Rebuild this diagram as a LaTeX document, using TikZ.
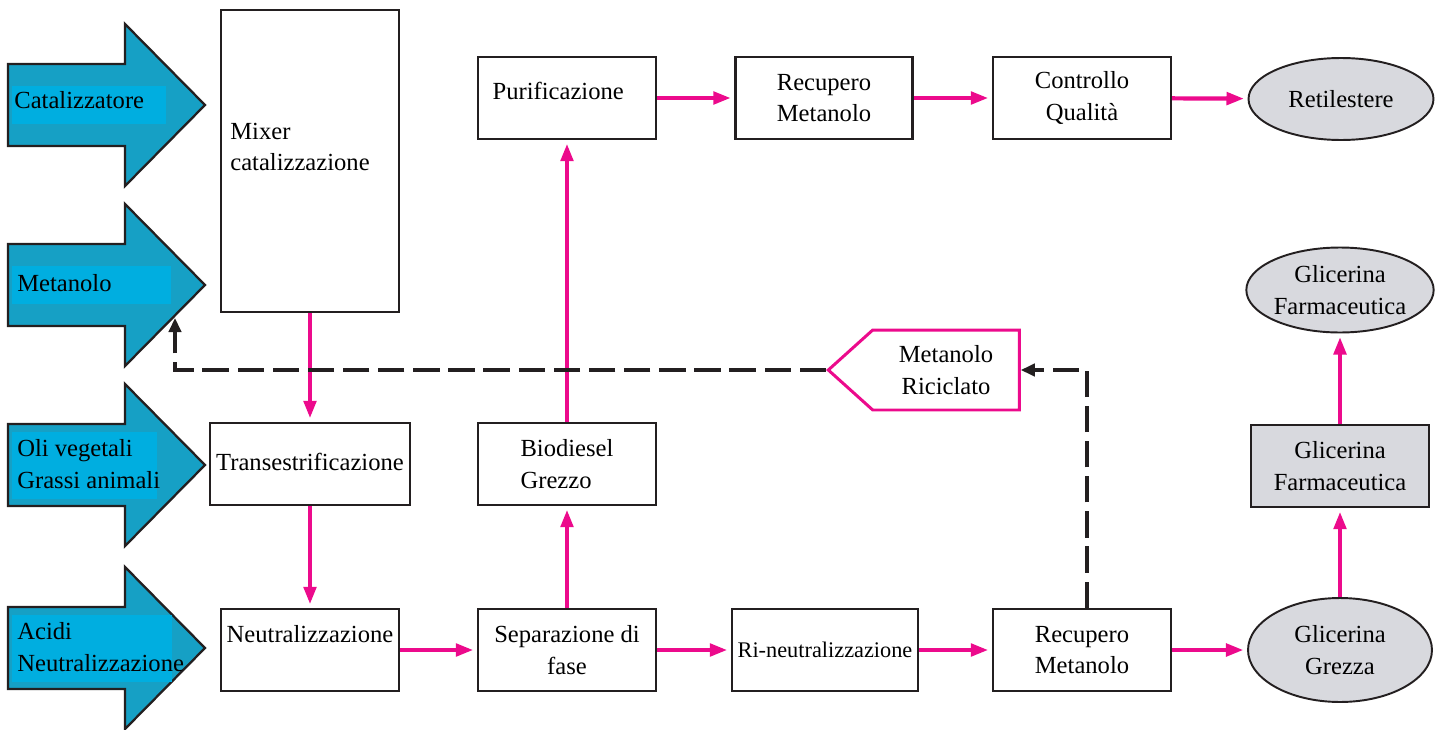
\documentclass[tikz,border=0pt]{standalone}
\usepackage{fontspec}
\setmainfont{Liberation Serif}
\usepackage{xcolor}
\usepackage{tikz}
\usetikzlibrary{arrows.meta,shapes.geometric,shapes.symbols,positioning,calc}
\definecolor{flowpink}{RGB}{236,10,140}
\definecolor{feedblue}{RGB}{22,160,197}
\definecolor{labelblue}{RGB}{0,174,224}
\definecolor{glygray}{RGB}{216,217,222}
\definecolor{linegray}{RGB}{35,31,32}

\begin{document}
\begin{tikzpicture}[x=0.02cm,y=-0.02cm,
  font=\fontsize{14}{18}\selectfont,
  box/.style={draw=linegray,line width=1.3pt,fill=white,inner sep=2pt,
    minimum width=3.56cm,minimum height=1.64cm,align=center},
  product/.style={ellipse,draw=linegray,line width=1.1pt,fill=glygray,inner sep=0pt,
    minimum width=3.68cm,minimum height=1.64cm,align=center},
  feed/.style={fill=feedblue,draw=linegray,line width=1.3pt},
  feedlabel/.style={anchor=west,align=left,inner sep=0pt},
  flow/.style={draw=flowpink,line width=2.4pt,shorten >=2pt,
    -{Triangle[length=10pt,width=7pt]}},
  recycle/.style={draw=linegray,line width=2.3pt,dash pattern=on 15pt off 5pt,
    -{Triangle[length=8pt,width=7pt]}}]
  \useasboundingbox (0,0) rectangle (1437,730);

  % Feed arrows
  \foreach \y/\w/\h in {105/166/38,285/171/38,465/157/67,648/172/67} {
    \draw[feed] (8,\y-41) -- (125,\y-41) -- (125,\y-81) -- (205,\y)
      -- (125,\y+81) -- (125,\y+41) -- (8,\y+41) -- cycle;
    \fill[labelblue] (12,\y-\h/2) rectangle (\w,\y+\h/2);
  }
  \node[feedlabel] (cat) at (14,100) {Catalizzatore};
  \node[feedlabel] (met) at (17,283) {Metanolo};
  \node[feedlabel] (oli) at (17,464) {Oli vegetali\\Grassi animali};
  \node[feedlabel] (acid) at (17,647) {Acidi\\Neutralizzazione};

  % Process units
  \node[box,minimum height=6.04cm] (mixer) at (310,161) {};
  \node[anchor=west,align=left,inner sep=0pt] (mixtxt) at (230,147) {Mixer\\catalizzazione};
  \node[box,minimum width=4cm] (trans) at (310,464) {\raisebox{3pt}{Transestrificazione}};
  \node[box] (neut) at (310,650) {\raisebox{18pt}{Neutralizzazione}};
  \node[box] (sep) at (567,650) {Separazione di\\fase};
  \node[box,minimum width=3.72cm,font=\fontsize{12.7}{18}\selectfont] (rineut) at (825,650) {Ri-neutralizzazione};
  \node[box] (recbot) at (1082,650) {Recupero\\Metanolo};
  \node[box,align=left] (biod) at (567,464) {Biodiesel\\Grezzo};
  \node[box] (purif) at (567,98) {\raisebox{8pt}{Purificazione}\hspace{10pt}};
  \node[box,minimum width=3.54cm] (rectop) at (824,98) {Recupero\\Metanolo};
  \node[box] (ctrl) at (1082,98) {Controllo\\Qualit\`a};

  % Products
  \node[product,minimum width=3.7cm] (retil) at (1341,99) {Retilestere};
  \node[product,minimum height=1.7cm] (glypharm) at (1340,290) {Glicerina\\Farmaceutica};
  \node[box,fill=glygray] (glyrect) at (1340,466) {Glicerina\\Farmaceutica};
  \node[product,minimum height=2.08cm] (glyraw) at (1340,650) {Glicerina\\Grezza};

  % Recycled methanol
  \node[signal,signal to=west,signal pointer angle=84,draw=flowpink,line width=1.7pt,
    fill=white,minimum width=3.82cm,minimum height=1.6cm,align=center,inner xsep=10pt]
    (ricic) at (946,370) {Metanolo\\Riciclato};
  \coordinate (metin) at (175,318);

  % Main flow
  \draw[flow] (mixer) -- (trans);
  \draw[flow] (trans) -- (neut);
  \draw[flow] (neut) -- (sep);
  \draw[flow] (sep) -- (biod);
  \draw[flow] (biod) -- (purif);
  \draw[flow] (purif) -- (rectop);
  \draw[flow] (rectop) -- (ctrl);
  \draw[flow] (ctrl) -- (retil);
  \draw[flow] (sep) -- (rineut);
  \draw[flow] (rineut) -- (recbot);
  \draw[flow] (recbot) -- (glyraw);
  \draw[flow] (glyraw) -- (glyrect);
  \draw[flow] (glyrect) -- (glypharm);

  % Methanol recycle
  \draw[recycle] ([xshift=5*0.02cm]recbot.north) |- (ricic.east);
  \draw[recycle] (ricic.west) -| (metin);
\end{tikzpicture}
\end{document}
